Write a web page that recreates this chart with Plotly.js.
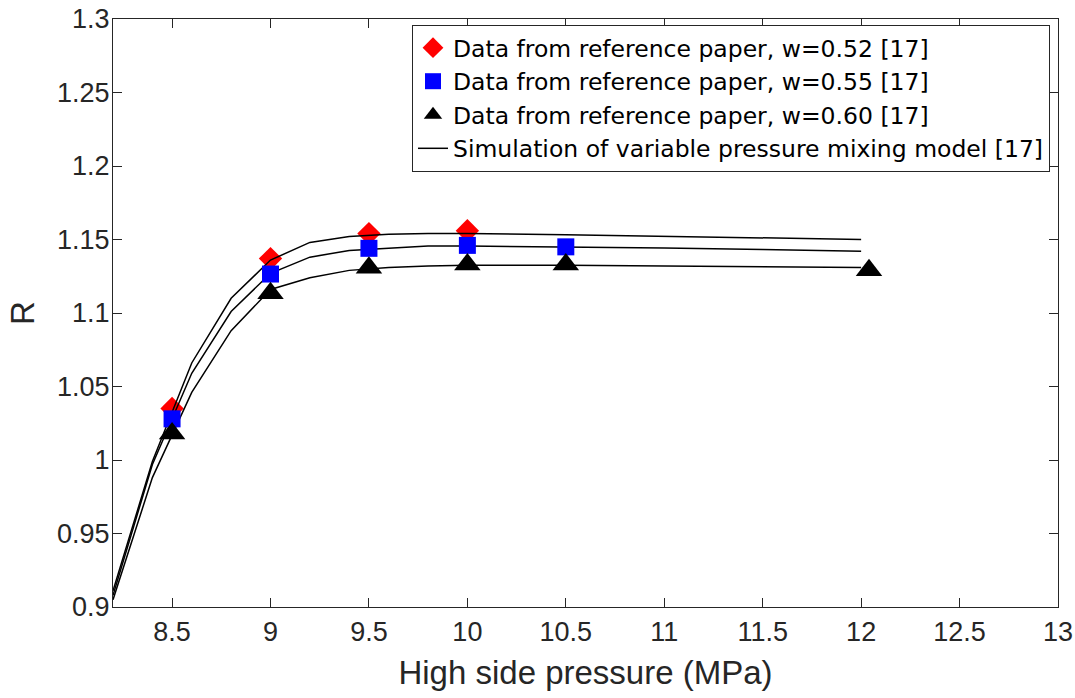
<!DOCTYPE html>
<html>
<head>
<meta charset="utf-8">
<script src="https://cdn.plot.ly/plotly-3.0.1.min.js"></script>
<style>html,body{margin:0;padding:0;background:#fff;}#chart{width:1075px;height:698px;}</style>
</head>
<body>
<div id="chart"></div>
<script>
// Reference data points
const xW052 = [8.5, 9.0, 9.5, 10.0];
const yW052 = [1.035, 1.137, 1.154, 1.156];

const xW055 = [8.5, 9.0, 9.5, 10.0, 10.5];
const yW055 = [1.028, 1.1265, 1.144, 1.146, 1.145];

const xW060 = [8.5, 9.0, 9.5, 10.0, 10.5, 12.04];
const yW060 = [1.018, 1.1135, 1.1308, 1.133, 1.133, 1.129];

// Simulation curves
const xSim = [8.2, 8.4, 8.6, 8.8, 9.0, 9.2, 9.4, 9.6, 9.8, 10.0, 10.5, 11.0, 11.5, 12.0];
const ySim052 = [0.911, 0.999, 1.066, 1.110, 1.136, 1.148, 1.152, 1.1535, 1.154, 1.154, 1.1533, 1.1523, 1.1512, 1.150];
const ySim055 = [0.908, 0.997, 1.059, 1.101, 1.127, 1.138, 1.1425, 1.144, 1.1455, 1.1455, 1.145, 1.1443, 1.1432, 1.142];
const ySim060 = [0.905, 0.988, 1.046, 1.088, 1.116, 1.124, 1.129, 1.131, 1.132, 1.1325, 1.1325, 1.132, 1.1315, 1.131];

const legendLabels = [
  'Data from reference paper, w=0.52 [17]',
  'Data from reference paper, w=0.55 [17]',
  'Data from reference paper, w=0.60 [17]',
  'Simulation of variable pressure mixing model [17]'
];

const FONT = 'Liberation Sans, Arial, Helvetica, sans-serif';
const LEGEND_FONT = 'DejaVu Sans, Liberation Sans, Arial, sans-serif';
const lineStyle = {color: '#000000', width: 1.5};

const traces = [
  {x: xW052, y: yW052, mode: 'markers', type: 'scatter', name: legendLabels[0], legendrank: 1,
   marker: {symbol: 'diamond', size: 18, color: '#ff0000', line: {width: 0}}},
  {x: xSim, y: ySim052, mode: 'lines', type: 'scatter', name: legendLabels[3], legendrank: 4,
   line: lineStyle, showlegend: true, legendgroup: 'sim'},
  {x: xSim, y: ySim055, mode: 'lines', type: 'scatter', name: legendLabels[3], legendrank: 4,
   line: lineStyle, showlegend: false, legendgroup: 'sim'},
  {x: xSim, y: ySim060, mode: 'lines', type: 'scatter', name: legendLabels[3], legendrank: 4,
   line: lineStyle, showlegend: false, legendgroup: 'sim'},
  {x: xW055, y: yW055, mode: 'markers', type: 'scatter', name: legendLabels[1], legendrank: 2,
   marker: {symbol: 'square', size: 17, color: '#0000ff', line: {width: 0}}},
  {x: xW060, y: yW060, mode: 'markers', type: 'scatter', name: legendLabels[2], legendrank: 3,
   marker: {symbol: 'triangle-up', size: 23, color: '#000000', line: {width: 0}}}
];

const axisCommon = {
  showgrid: false, zeroline: false, showline: true, linecolor: '#262626', linewidth: 1,
  mirror: 'ticks', ticks: 'inside', ticklen: 9, tickcolor: '#262626', tickwidth: 1,
  tickfont: {family: FONT, size: 27, color: '#262626'}
};

const layout = {
  width: 1075, height: 698,
  margin: {l: 113, r: 17, t: 19, b: 91},
  paper_bgcolor: '#ffffff', plot_bgcolor: '#ffffff',
  showlegend: true,
  xaxis: Object.assign({}, axisCommon, {
    range: [8.2, 13], tick0: 8.5, dtick: 0.5, ticklabelstandoff: 1,
    title: {text: 'High side pressure (MPa)', font: {family: FONT, size: 33, color: '#262626'}, standoff: 14}
  }),
  yaxis: Object.assign({}, axisCommon, {
    range: [0.9, 1.3], tick0: 0.9, dtick: 0.05, ticklabelstandoff: -3,
    title: {text: 'R', font: {family: FONT, size: 33, color: '#262626'}, standoff: 12}
  }),
  legend: {
    x: 0.3164, y: 0.99, xanchor: 'left', yanchor: 'top',
    bgcolor: '#ffffff', bordercolor: '#262626', borderwidth: 1,
    font: {family: LEGEND_FONT, size: 23.5, color: '#000000'},
    traceorder: 'normal', itemsizing: 'trace'
  }
};

Plotly.newPlot('chart', traces, layout, {displayModeBar: false, staticPlot: true});
</script>
</body>
</html>
